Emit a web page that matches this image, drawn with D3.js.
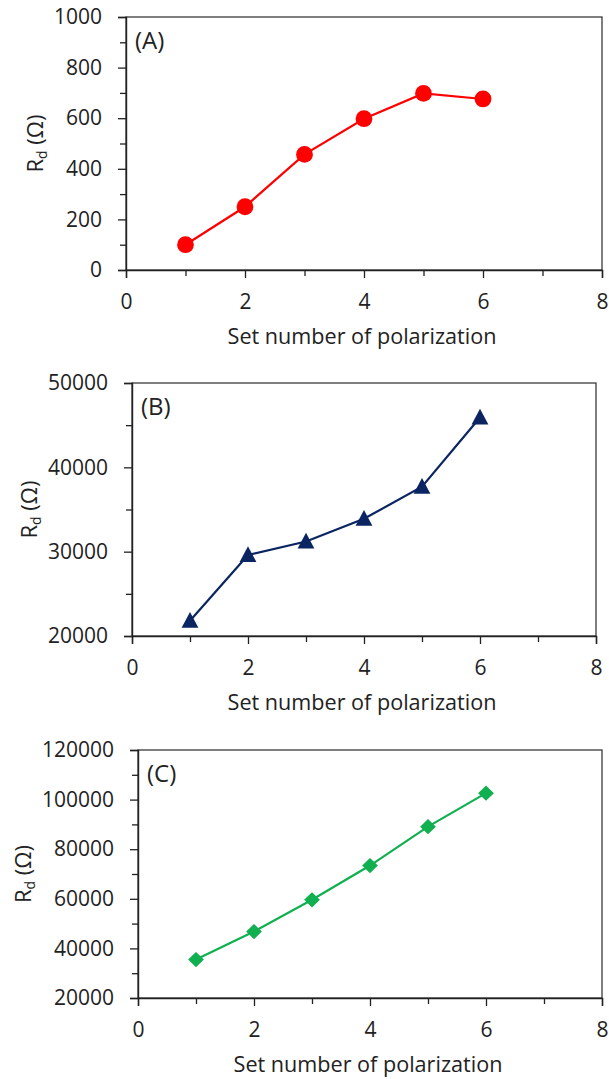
<!DOCTYPE html>
<html>
<head>
<meta charset="utf-8">
<script src="https://cdn.jsdelivr.net/npm/d3@7"></script>
<style>
  html, body { margin: 0; padding: 0; background: #fff; }
  svg { display: block; }
  text { font-family: "Open Sans", Lato, sans-serif; fill: #222; }
</style>
</head>
<body>
<svg id="chart" width="609" height="1079"></svg>
<script>
// Polarization set numbers (shared x values)
const setNumbers = [1, 2, 3, 4, 5, 6];

// Rd values for each panel (ohm)
const rdA = [100, 250, 457, 598, 698, 676];
const rdB = [21800, 29600, 31200, 33900, 37700, 45900];
const rdC = [35500, 46800, 59600, 73400, 89100, 102600];

// Axis ticks
const xTicks = [0, 2, 4, 6, 8];
const xMinorTicks = [1, 3, 5, 7];
const yTicksA = [0, 200, 400, 600, 800, 1000];
const yMinorA = [100, 300, 500, 700, 900];
const yTicksB = [20000, 30000, 40000, 50000];
const yMinorB = [25000, 35000, 45000];
const yTicksC = [20000, 40000, 60000, 80000, 100000, 120000];
const yMinorC = [30000, 50000, 70000, 90000, 110000];

const panelLabels = ["(A)", "(B)", "(C)"];
const xTitle = "Set number of polarization";

const FONT = "'Open Sans', Lato, sans-serif";
const svg = d3.select("#chart");

const panels = [
  { label: panelLabels[0], values: rdA, yTicks: yTicksA, yMinor: yMinorA,
    box: { l: 126, r: 602, t: 17, b: 270 }, yLabelX: 35,
    color: "#ff0000", marker: "circle" },
  { label: panelLabels[1], values: rdB, yTicks: yTicksB, yMinor: yMinorB,
    box: { l: 132, r: 596, t: 383, b: 636 }, yLabelX: 29,
    color: "#0b2462", marker: "triangle" },
  { label: panelLabels[2], values: rdC, yTicks: yTicksC, yMinor: yMinorC,
    box: { l: 138, r: 602, t: 750, b: 998 }, yLabelX: 23,
    color: "#10b050", marker: "diamond" }
];

const markerPath = {
  circle: "M0,-8.4A8.4,8.4 0 1,1 0,8.4A8.4,8.4 0 1,1 0,-8.4Z",
  triangle: "M0,-8.8L8.4,7L-8.4,7Z",
  diamond: "M0,-7.6L7.9,0L0,7.6L-7.9,0Z"
};

panels.forEach(p => {
  const { l, r, t, b } = p.box;
  const x = d3.scaleLinear().domain([0, 8]).range([l, r]);
  const y = d3.scaleLinear().domain(d3.extent(p.yTicks)).range([b, t]);
  const g = svg.append("g");

  // Plot frame
  g.append("rect")
    .attr("x", l).attr("y", t)
    .attr("width", r - l).attr("height", b - t)
    .attr("fill", "none").attr("stroke", "#3a3a3a").attr("stroke-width", 1.3);

  // X axis (major + minor ticks)
  const xAxis = d3.axisBottom(x).tickValues(xTicks).tickSize(8).tickPadding(16)
    .tickFormat(d3.format("d"));
  const gx = g.append("g").attr("transform", `translate(0,${b})`).call(xAxis);
  gx.select(".domain").attr("stroke", "#222").attr("stroke-width", 1.4);
  gx.selectAll(".tick line").attr("stroke", "#222").attr("stroke-width", 1.3);
  gx.selectAll(".tick text").attr("font-size", 21).attr("font-family", FONT).attr("fill", "#222");
  const gxm = g.append("g").attr("transform", `translate(0,${b})`)
    .call(d3.axisBottom(x).tickValues(xMinorTicks).tickSize(6).tickFormat(""));
  gxm.select(".domain").remove();
  gxm.selectAll(".tick line").attr("stroke", "#222").attr("stroke-width", 1.3);

  // Y axis (major + minor ticks)
  const yAxis = d3.axisLeft(y).tickValues(p.yTicks).tickSize(8).tickPadding(16)
    .tickFormat(d3.format("d"));
  const gy = g.append("g").attr("transform", `translate(${l},0)`).call(yAxis);
  gy.select(".domain").attr("stroke", "#222").attr("stroke-width", 1.4);
  gy.selectAll(".tick line").attr("stroke", "#222").attr("stroke-width", 1.3);
  gy.selectAll(".tick text").attr("font-size", 21).attr("font-family", FONT).attr("fill", "#222");
  const gym = g.append("g").attr("transform", `translate(${l},0)`)
    .call(d3.axisLeft(y).tickValues(p.yMinor).tickSize(6).tickFormat(""));
  gym.select(".domain").remove();
  gym.selectAll(".tick line").attr("stroke", "#222").attr("stroke-width", 1.3);

  // Axis titles
  g.append("text")
    .attr("x", (l + r) / 2 - 2).attr("y", b + 74)
    .attr("text-anchor", "middle").attr("font-size", 21.6)
    .text(xTitle);

  const yl = g.append("text")
    .attr("transform", `translate(${p.yLabelX + 7.5},${(t + b) / 2}) rotate(-90)`)
    .attr("text-anchor", "middle").attr("font-size", 22);
  yl.append("tspan").text("R");
  yl.append("tspan").attr("font-size", 14).attr("dy", 4).text("d");
  yl.append("tspan").attr("dy", -4).text(" (Ω)");

  // Panel tag
  g.append("text")
    .attr("x", l + 9).attr("y", t + 32)
    .attr("font-size", 24)
    .text(p.label);

  // Series line
  const pts = setNumbers.map((s, i) => [s, p.values[i]]);
  g.append("path")
    .datum(pts)
    .attr("fill", "none")
    .attr("stroke", p.color)
    .attr("stroke-width", 2.2)
    .attr("d", d3.line().x(d => x(d[0])).y(d => y(d[1])));

  // Markers
  g.selectAll(".marker")
    .data(pts)
    .join("path")
    .attr("class", "marker")
    .attr("d", markerPath[p.marker])
    .attr("transform", d => `translate(${x(d[0])},${y(d[1])})`)
    .attr("fill", p.color);
});
</script>
</body>
</html>
